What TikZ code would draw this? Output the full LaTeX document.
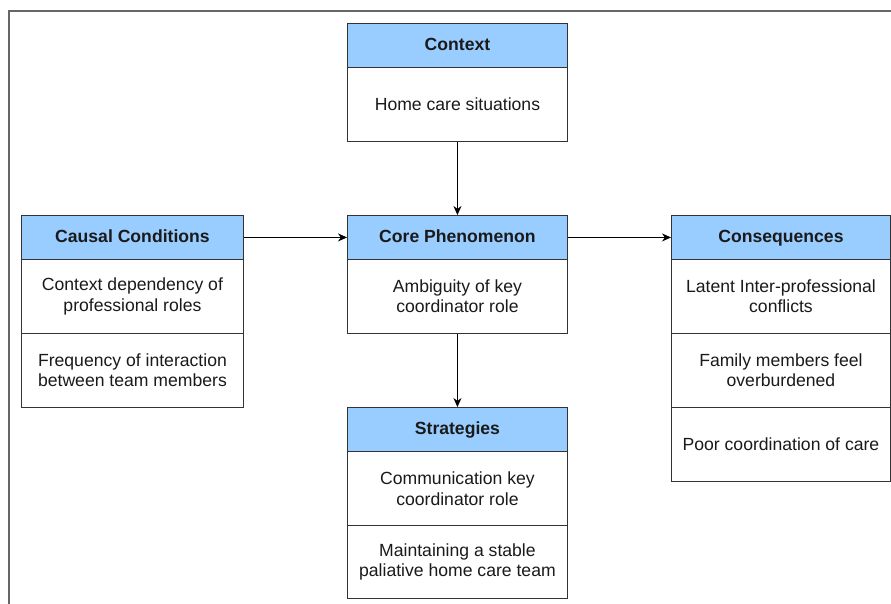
\documentclass[tikz,border=0pt]{standalone}
\usepackage{fontspec}
\setmainfont{Liberation Sans}
\usetikzlibrary{arrows.meta}
\definecolor{hdrblue}{HTML}{99CCFF}
\definecolor{edgegray}{HTML}{333333}
\definecolor{framegray}{HTML}{666666}
\definecolor{txt}{HTML}{1A1A1A}
\begin{document}
\begin{tikzpicture}[x=1pt,y=-1pt,
  hdr/.style={draw=edgegray,line width=0.9pt,fill=hdrblue,rectangle,anchor=north west,
    minimum height=44pt,inner sep=0pt,text height=12.8pt,text depth=3.6pt,text=txt,
    font=\fontsize{17.6}{20.5}\selectfont\bfseries},
  cell/.style={draw=edgegray,line width=0.9pt,fill=white,rectangle,anchor=north west,
    minimum height=74pt,inner sep=0pt,align=center,text=txt,font=\fontsize{17.6}{20.5}\selectfont},
  conn/.style={draw=black,line width=0.9pt,-{Stealth[length=9pt,width=8pt]}}]
\useasboundingbox (0,0) rectangle (891,603);
\draw[framegray,line width=1.6pt] (891,11) -- (9,11) -- (9,605);
% Context
\node[hdr,minimum width=220pt] (ctxH) at (347,23) {Context};
\node[cell,minimum width=220pt] (ctx1) at (347,67) {Home care situations};
% Core
\node[hdr,minimum width=220pt] (coreH) at (347,215) {Core Phenomenon};
\node[cell,minimum width=220pt] (core1) at (347,259) {Ambiguity of key\\coordinator role};
% Causal
\node[hdr,minimum width=222pt] (causH) at (21,215) {Causal Conditions};
\node[cell,minimum width=222pt] (caus1) at (21,259) {Context dependency of\\professional roles};
\node[cell,minimum width=222pt] (caus2) at (21,333) {Frequency of interaction\\between team members};
% Consequences
\node[hdr,minimum width=219pt] (consH) at (671,215) {Consequences};
\node[cell,minimum width=219pt] (cons1) at (671,259) {Latent Inter-professional\\conflicts};
\node[cell,minimum width=219pt] (cons2) at (671,333) {Family members feel\\overburdened};
\node[cell,minimum width=219pt] (cons3) at (671,407) {Poor coordination of care};
% Strategies
\node[hdr,minimum width=220pt] (strH) at (347,407) {Strategies};
\node[cell,minimum width=220pt] (str1) at (347,451) {Communication key\\coordinator role};
\node[cell,minimum width=220pt,minimum height=73pt] (str2) at (347,525) {Maintaining a stable\\paliative home care team};
% connectors
\draw[conn] (ctx1.south) -- (coreH.north);
\draw[conn] (causH.east) -- (coreH.west);
\draw[conn] (coreH.east) -- (consH.west);
\draw[conn] (core1.south) -- (strH.north);
\end{tikzpicture}
\end{document}
